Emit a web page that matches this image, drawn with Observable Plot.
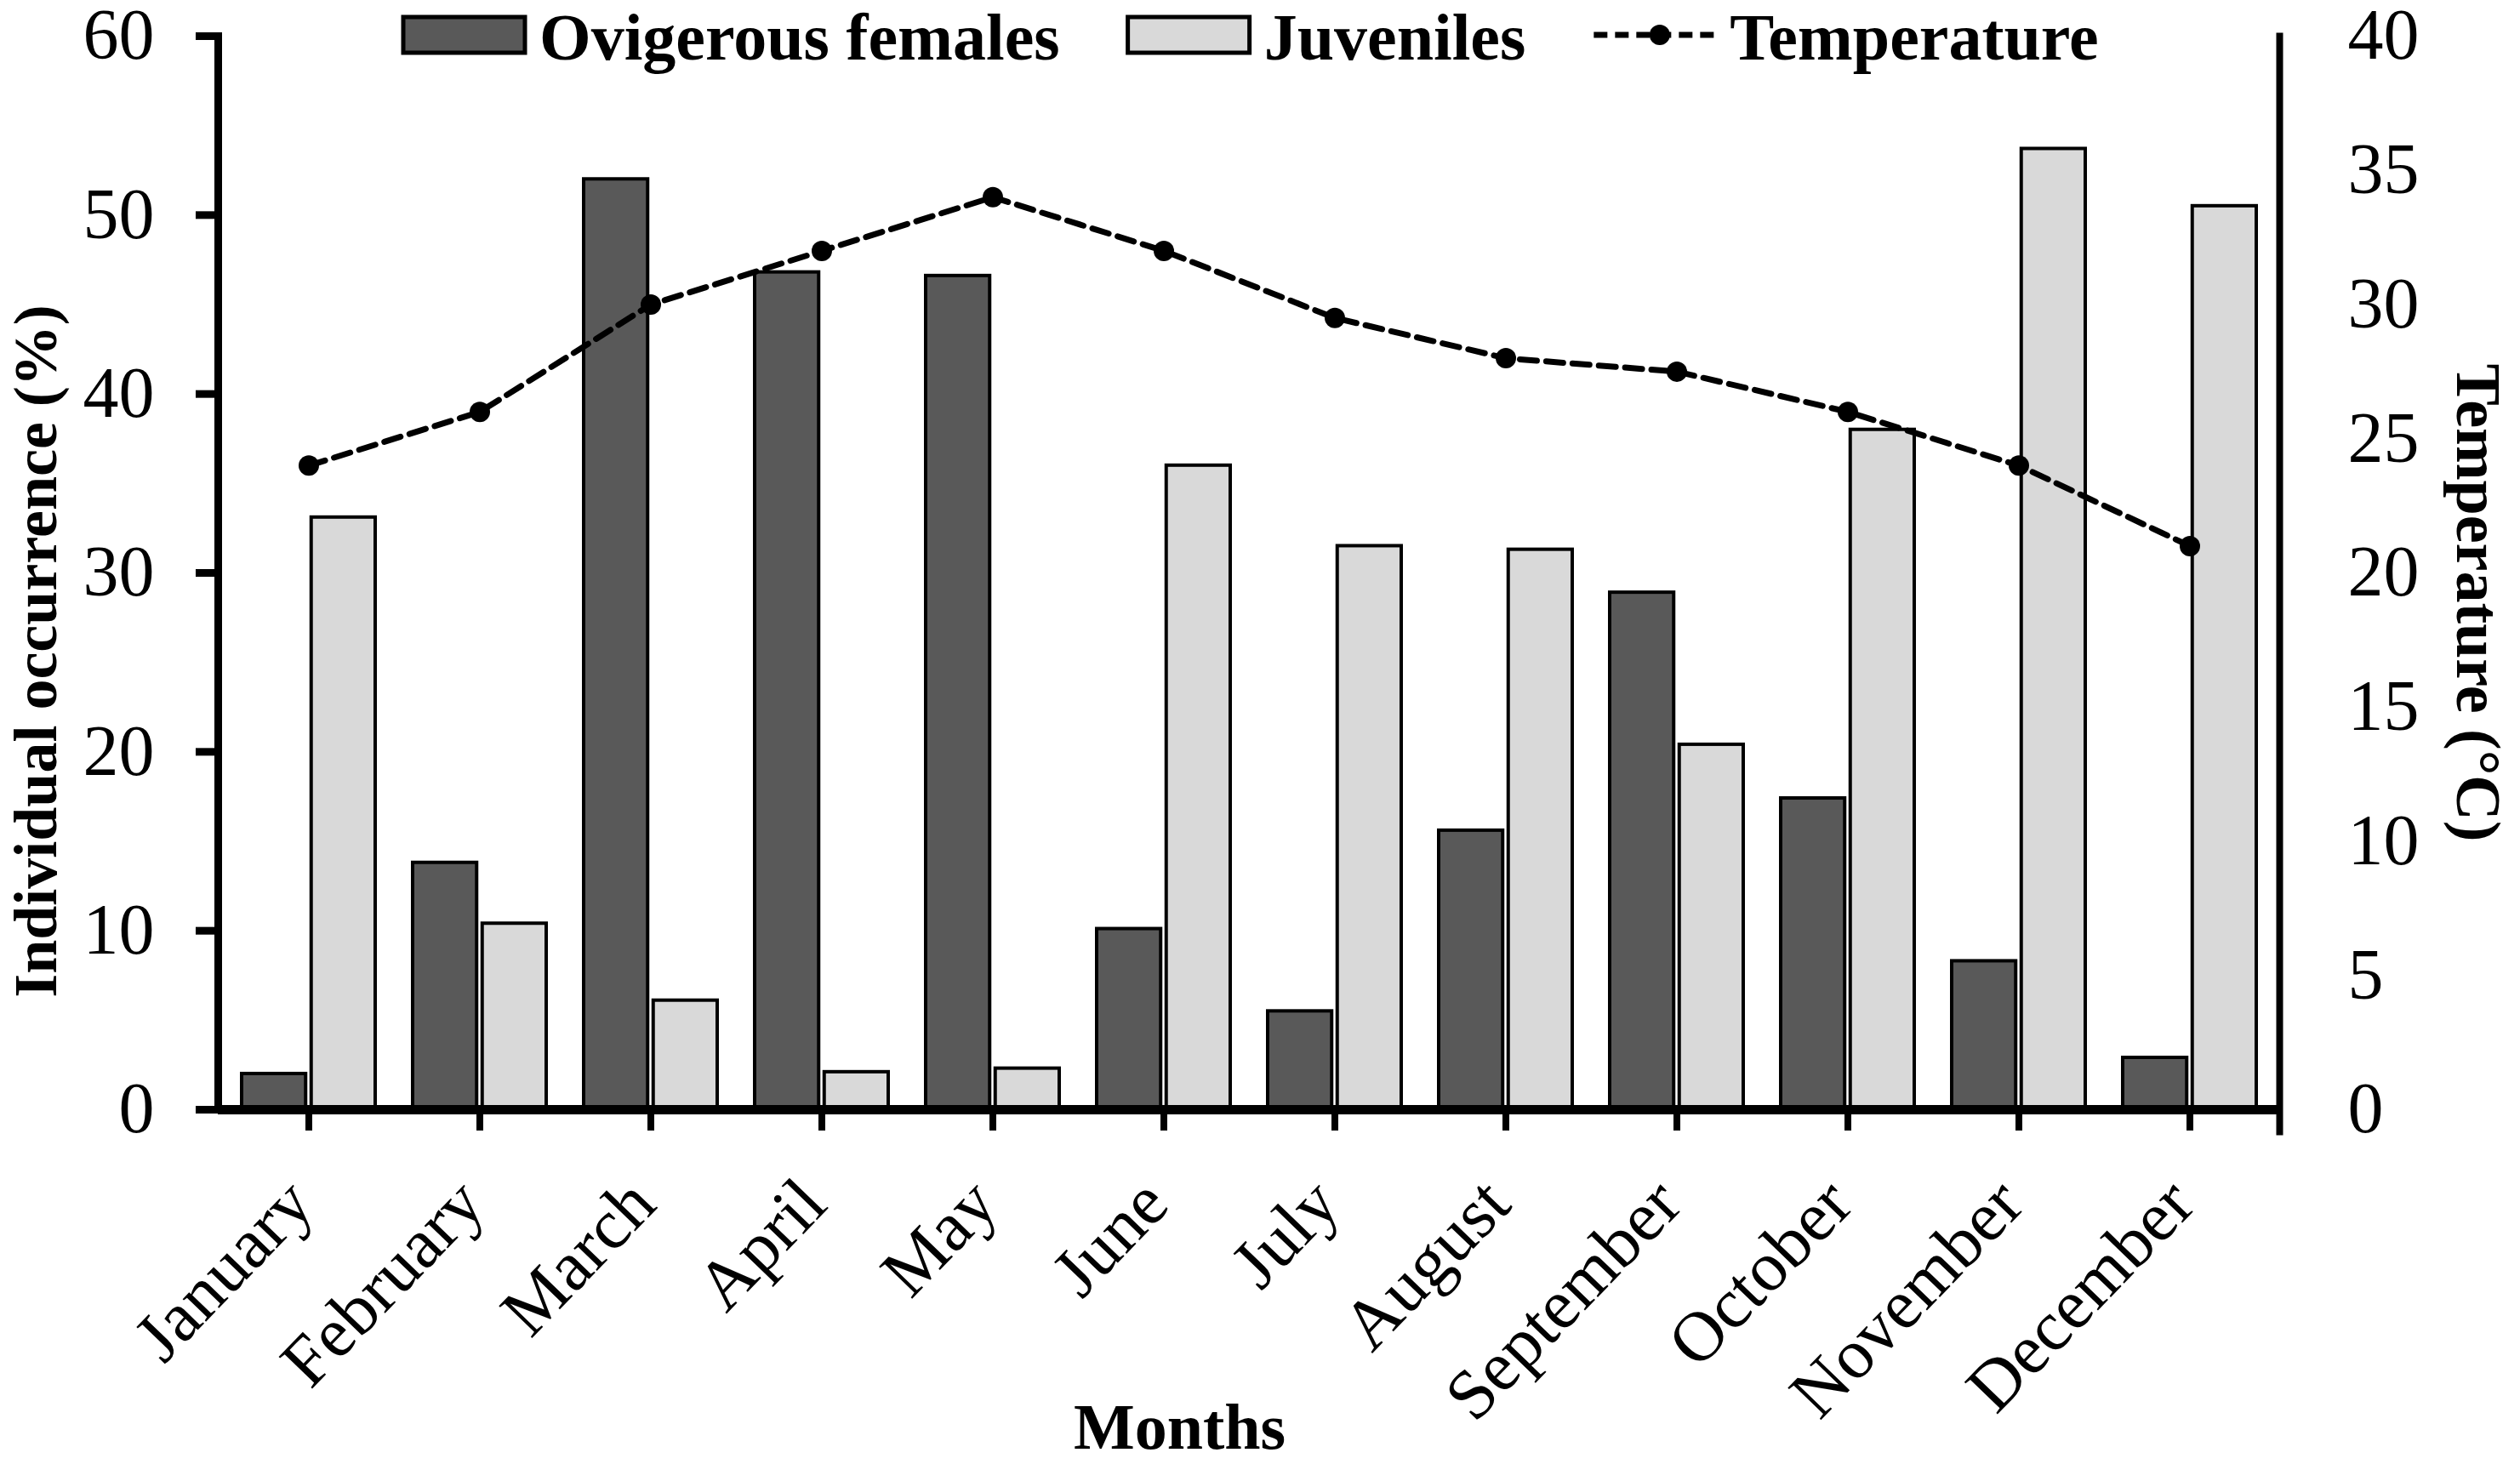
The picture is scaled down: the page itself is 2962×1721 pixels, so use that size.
<!DOCTYPE html>
<html><head><meta charset="utf-8">
<script src="https://cdn.jsdelivr.net/npm/d3@7"></script>
<script src="https://cdn.jsdelivr.net/npm/@observablehq/plot@0.6"></script>
<style>
html,body{margin:0;padding:0;background:#fff;}
#wrap{position:relative;width:2962px;height:1721px;font-family:"Liberation Serif","Times New Roman",serif;}
</style></head><body><div id="wrap"></div>
<script>
// ---- data ----
const months = ["January","February","March","April","May","June","July","August","September","October","November","December"];
const ovigerous = [2.0, 13.8, 52.0, 46.8, 46.6, 10.1, 5.5, 15.6, 28.9, 17.4, 8.3, 2.9];
const juveniles = [33.1, 10.4, 6.1, 2.1, 2.3, 36.0, 31.5, 31.3, 20.4, 38.0, 53.7, 50.5];
const temperature = [24, 26, 30, 32, 34, 32, 29.5, 28, 27.5, 26, 24, 21];
const leftTicks = [0, 10, 20, 30, 40, 50, 60];
const rightTicks = [0, 5, 10, 15, 20, 25, 30, 35, 40];
const seriesNames = ["Ovigerous females", "Juveniles", "Temperature"];
const seriesFills = ["#595959", "#d9d9d9"];
const xTitle = "Months";
const yTitle = "Individual occurrence (%)";
const y2Title = "Temperature (°C)";

// ---- layout ----
const W = 2962, H = 1721;
const mL = 256, mR = 283, mT = 42, mB = 417;
const pInner = 0.22, pOuter = 0.11;
const step = (W - mL - mR) / (months.length - pInner + 2 * pOuter);
const bw = step * (1 - pInner);
const ratio = leftTicks[leftTicks.length - 1] / rightTicks[rightTicks.length - 1];
const font = "'Liberation Serif','Times New Roman',serif";

const rows = months.map((m, i) => ({month: m, ov: ovigerous[i], juv: juveniles[i], temp: temperature[i]}));
const frameCx = (mL + (W - mR)) / 2, frameCy = (mT + (H - mB)) / 2;

const chart = Plot.plot({
  width: W, height: H,
  marginLeft: mL, marginRight: mR, marginTop: mT, marginBottom: mB,
  style: {fontFamily: font, background: "white", color: "black", overflow: "visible"},
  x: {type: "band", domain: months, paddingInner: pInner, paddingOuter: pOuter},
  y: {domain: [leftTicks[0], leftTicks[leftTicks.length - 1]]},
  marks: [
    Plot.barY(rows, {x: "month", y: "ov", fill: seriesFills[0], stroke: "black", strokeWidth: 4, insetRight: bw / 2 + 3}),
    Plot.barY(rows, {x: "month", y: "juv", fill: seriesFills[1], stroke: "black", strokeWidth: 4, insetLeft: bw / 2 + 3}),
    Plot.line(rows, {x: "month", y: d => d.temp * ratio, stroke: "black", strokeWidth: 7, strokeDasharray: "20,11"}),
    Plot.dot(rows, {x: "month", y: d => d.temp * ratio, r: 12, fill: "black"}),
    Plot.axisY({ticks: leftTicks, anchor: "left", tickSize: 26, tickPadding: 49, fontSize: 84, strokeWidth: 9, label: null}),
    Plot.axisY({ticks: rightTicks.map(t => t * ratio), anchor: "right", tickSize: 0, tickPadding: 80, fontSize: 84,
      tickFormat: d => String(Math.round(d / ratio)), label: null}),
    // x tick marks
    Plot.axisX({anchor: "bottom", tickSize: 25, tickFormat: () => "", strokeWidth: 8, label: null}),
    // x tick labels
    Plot.axisX({anchor: "bottom", tickSize: 0, tickRotate: -46, tickPadding: 96, dx: -10, fontSize: 83, label: null}),
    Plot.frame({anchor: "left", strokeWidth: 9}),
    Plot.frame({anchor: "right", strokeWidth: 8, insetBottom: -26}),
    Plot.ruleY([0], {strokeWidth: 11}),
    Plot.text([xTitle], {text: d => d, frameAnchor: "bottom", textAnchor: "middle", lineAnchor: "middle",
      dx: 1386 - frameCx, dy: 1678 - (H - mB), fontSize: 76, fontWeight: "bold"}),
    Plot.text([yTitle], {text: d => d, frameAnchor: "left", textAnchor: "middle", lineAnchor: "middle", rotate: -90,
      dx: 42 - mL, dy: 765 - frameCy, fontSize: 72, fontWeight: "bold"}),
    Plot.text([y2Title], {text: d => d, frameAnchor: "right", textAnchor: "middle", lineAnchor: "middle", rotate: 90,
      dx: 2911 - (W - mR), dy: 708 - frameCy, fontSize: 74, fontWeight: "bold"})
  ]
});
const wrap = document.getElementById("wrap");
wrap.appendChild(chart);

// ---- legend (overlay at top) ----
const legend = d3.select(wrap).append("svg")
  .attr("width", W).attr("height", 110)
  .style("position", "absolute").style("left", "0px").style("top", "0px")
  .style("font-family", font);
let cx = 474;
const swW = 143, swTop = 20, swH = 42, base = 70;
seriesNames.forEach((name, i) => {
  if (i < 2) {
    legend.append("rect").attr("x", cx).attr("y", swTop).attr("width", swW).attr("height", swH)
      .attr("fill", seriesFills[i]).attr("stroke", "black").attr("stroke-width", 5);
  } else {
    legend.append("line").attr("x1", cx).attr("x2", cx + swW).attr("y1", swTop + swH / 2).attr("y2", swTop + swH / 2)
      .attr("stroke", "black").attr("stroke-width", 7).attr("stroke-dasharray", "16,9");
    legend.append("circle").attr("cx", cx + swW / 2 + 6).attr("cy", swTop + swH / 2).attr("r", 12).attr("fill", "black");
  }
  cx += swW + 17;
  const t = legend.append("text").attr("x", cx).attr("y", base).attr("font-size", 78).attr("font-weight", "bold").text(name);
  cx += t.node().getComputedTextLength() + 80;
});
</script>
</body></html>
